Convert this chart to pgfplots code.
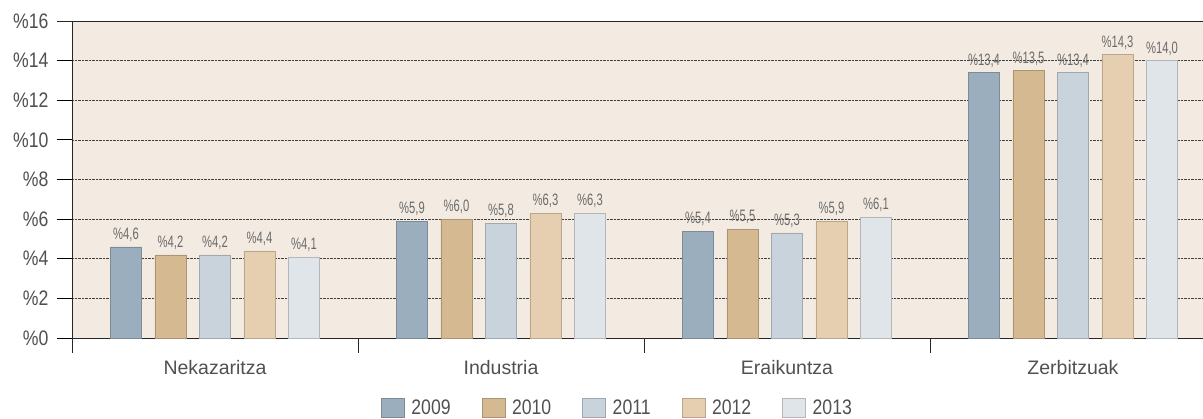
\documentclass[border=0pt]{standalone}
\usepackage{fontspec}
\setmainfont{Liberation Sans}
\newfontfamily\tickfont{Liberation Sans}[FakeStretch=0.84]
\newfontfamily\valfont{Liberation Sans}[FakeStretch=0.68]
\usepackage{pgfplots}
\usepackage{pgfplotstable}
\pgfplotsset{compat=1.18}
\definecolor{bg}{HTML}{F3EBE1}
\definecolor{cA}{HTML}{9AAEBD}
\definecolor{cB}{HTML}{D5B991}
\definecolor{cC}{HTML}{C8D3DC}
\definecolor{cD}{HTML}{E6CFB0}
\definecolor{cE}{HTML}{E0E5EA}
\definecolor{labgray}{HTML}{505050}
\definecolor{valgray}{HTML}{6A6A6A}

\pgfplotstableread{
x y l
0 4.6 4,6
1 5.9 5,9
2 5.4 5,4
3 13.4 13,4
}\dA
\pgfplotstableread{
x y l
0 4.2 4,2
1 6.0 6,0
2 5.5 5,5
3 13.5 13,5
}\dB
\pgfplotstableread{
x y l
0 4.2 4,2
1 5.8 5,8
2 5.3 5,3
3 13.4 13,4
}\dC
\pgfplotstableread{
x y l
0 4.4 4,4
1 6.3 6,3
2 5.9 5,9
3 14.3 14,3
}\dD
\pgfplotstableread{
x y l
0 4.1 4,1
1 6.3 6,3
2 6.1 6,1
3 14.0 14,0
}\dE

\begin{document}
\begin{tikzpicture}
\useasboundingbox (-72pt,-80pt) rectangle (1131pt,338pt);
\begin{axis}[
  at={(0,0)}, anchor=south west,
  scale only axis, width=1131pt, height=317pt,
  xmin=-0.5, xmax=3.4545, ymin=0, ymax=16,
  clip=false,
  axis background/.style={fill=bg},
  ybar=13.5pt, bar width=31pt,
  axis x line*=bottom, axis y line*=left,
  axis line style={-, black!85, line width=0.8pt},
  ytick={0,2,...,16},
  yticklabels={\%0,\%2,\%4,\%6,\%8,\%10,\%12,\%14,\%16},
  ymajorgrids,
  major grid style={densely dotted, black!75, line width=0.6pt},
  tick align=outside, major tick length=15pt,
  ytick style={black, line width=0.8pt},
  yticklabel style={font=\tickfont\fontsize{21}{21}\selectfont, text=labgray, anchor=east, xshift=-5pt},
  xtick={0,1,2,3},
  xticklabels={Nekazaritza,Industria,Eraikuntza,Zerbitzuak},
  xtick style={draw=none},
  xticklabel style={font=\fontsize{19.5}{19.5}\selectfont, text=labgray, anchor=base, yshift=-21.5pt},
  point meta=explicit symbolic,
  nodes near coords={\%\pgfplotspointmeta},
  nodes near coords style={font=\valfont\fontsize{16.5}{16.5}\selectfont, text=valgray, anchor=south, inner sep=0pt, yshift=5pt},
  legend columns=5,
  legend style={at={(0.4823,0)}, anchor=center, yshift=-69.5pt, draw=none, fill=none,
    font=\tickfont\fontsize{21}{21}\selectfont, text=labgray,
    /tikz/every odd column/.append style={column sep=5pt},
    /tikz/every even column/.append style={column sep=29pt}},
  legend image code/.code={\fill[#1] (0pt,-9.5pt) rectangle (23pt,9.5pt);},
]
\addplot[fill=cA, draw=cA!80!black, line width=0.4pt] table[x=x,y=y,meta=l]{\dA};
\addplot[fill=cB, draw=cB!80!black, line width=0.4pt] table[x=x,y=y,meta=l]{\dB};
\addplot[fill=cC, draw=cC!80!black, line width=0.4pt] table[x=x,y=y,meta=l]{\dC};
\addplot[fill=cD, draw=cD!80!black, line width=0.4pt] table[x=x,y=y,meta=l]{\dD};
\addplot[fill=cE, draw=cE!80!black, line width=0.4pt] table[x=x,y=y,meta=l]{\dE};
\legend{2009,2010,2011,2012,2013}
\draw[black!85, line width=0.8pt] (rel axis cs:0,1) -- (rel axis cs:1,1);
\draw[black!85, line width=0.8pt] (rel axis cs:0,1) -- ++(-15pt,0pt);
\foreach \s in {-0.5,0.5,1.5,2.5} {
  \edef\tmp{\noexpand\draw[black!85, line width=0.8pt] (axis cs:\s,0) -- ++(0pt,-15pt);}
  \tmp
}
\end{axis}
\end{tikzpicture}
\end{document}
